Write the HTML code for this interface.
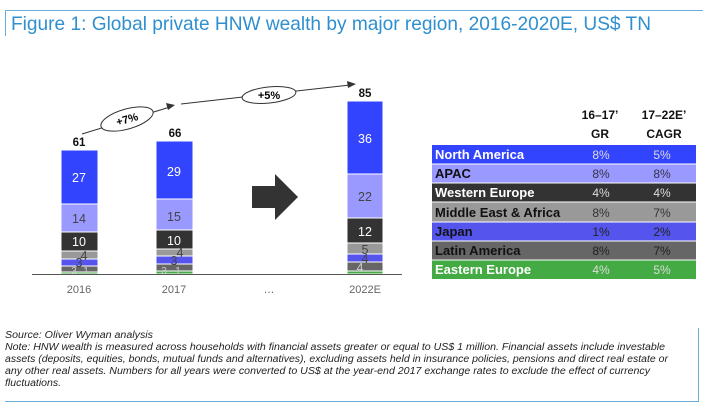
<!DOCTYPE html>
<html><head><meta charset="utf-8"><style>
body{margin:0;background:#fff;width:703px;height:411px;overflow:hidden;position:relative;font-family:"Liberation Sans",sans-serif}
</style></head><body>
<svg width="703" height="411" style="position:absolute;left:0;top:0" font-family="Liberation Sans, sans-serif">
<line x1="5" y1="10.5" x2="703" y2="10.5" stroke="#6aaedb" stroke-width="1"/>
<line x1="5.5" y1="10" x2="5.5" y2="36" stroke="#6aaedb" stroke-width="1"/>
<text x="11" y="30" font-size="19.5" fill="#2f8fcf" textLength="640" lengthAdjust="spacingAndGlyphs">Figure 1: Global private HNW wealth by major region, 2016-2020E, US$ TN</text>
<g stroke="#fff" stroke-width="1">
<rect x="61" y="150" width="37" height="54" fill="#3344ff"/>
<rect x="61" y="204" width="37" height="28" fill="#9999ff"/>
<rect x="61" y="232" width="37" height="19" fill="#333"/>
<rect x="61" y="251" width="37" height="8" fill="#999"/>
<rect x="61" y="259" width="37" height="7" fill="#5555ee"/>
<rect x="61" y="266" width="37" height="6" fill="#666"/>
<rect x="61" y="272" width="37" height="2" fill="#44aa44"/>
<rect x="156" y="141" width="37" height="58" fill="#3344ff"/>
<rect x="156" y="199" width="37" height="31" fill="#9999ff"/>
<rect x="156" y="230" width="37" height="19" fill="#333"/>
<rect x="156" y="249" width="37" height="7" fill="#999"/>
<rect x="156" y="256" width="37" height="8" fill="#5555ee"/>
<rect x="156" y="264" width="37" height="7" fill="#666"/>
<rect x="156" y="271" width="37" height="3" fill="#44aa44"/>
<rect x="347" y="101" width="36" height="73" fill="#3344ff"/>
<rect x="347" y="174" width="36" height="44" fill="#9999ff"/>
<rect x="347" y="218" width="36" height="25" fill="#333"/>
<rect x="347" y="243" width="36" height="11" fill="#999"/>
<rect x="347" y="254" width="36" height="8" fill="#5555ee"/>
<rect x="347" y="262" width="36" height="9" fill="#666"/>
<rect x="347" y="271" width="36" height="3" fill="#44aa44"/>
</g>
<line x1="32" y1="274.5" x2="402" y2="274.5" stroke="#555" stroke-width="1"/>
<g font-size="12.5" text-anchor="middle" fill="#fff">
<text x="79" y="182">27</text><text x="79" y="223" fill="#444">14</text><text x="79" y="246">10</text>
<text x="84" y="260" fill="#444">4</text><text x="79" y="267" fill="#444">3</text><text x="74" y="274" fill="#ccc" font-size="10">3</text><text x="86" y="274" fill="#ccc" font-size="10">1</text>
<text x="174" y="176">29</text><text x="174" y="221" fill="#444">15</text><text x="174" y="245">10</text>
<text x="180" y="257" fill="#444">4</text><text x="174" y="265" fill="#444">3</text><text x="164" y="274" fill="#ccc" font-size="10">3</text><text x="178" y="274" fill="#ccc" font-size="10">1</text>
<text x="365" y="143">36</text><text x="365" y="201" fill="#444">22</text><text x="365" y="236">12</text>
<text x="365" y="254" fill="#444">5</text><text x="365" y="263" fill="#444">4</text><text x="360" y="272" fill="#ccc">4</text>
</g>
<g font-size="11" text-anchor="middle" fill="#666">
<text x="79" y="293">2016</text><text x="174" y="293">2017</text><text x="269" y="293">…</text><text x="365" y="293">2022E</text>
</g>
<g font-size="11.5" font-weight="bold" text-anchor="middle" fill="#111">
<text x="79" y="146">61</text><text x="175" y="137">66</text><text x="365" y="97">85</text>
</g>
<polygon points="252,186 275,186 275,174 298,197 275,220 275,208 252,208" fill="#333"/>
<line x1="82" y1="134" x2="170" y2="107" stroke="#333" stroke-width="1"/>
<polygon points="175,105 166,103 168,110" fill="#333"/>
<ellipse cx="127" cy="119" rx="27" ry="10" transform="rotate(-16 127 119)" fill="#fff" stroke="#333"/>
<text x="127" y="123" font-size="11" font-weight="bold" text-anchor="middle" transform="rotate(-16 127 119)">+7%</text>
<line x1="181" y1="104" x2="350" y2="85" stroke="#333" stroke-width="1"/>
<polygon points="356,84 347,81 348,88" fill="#333"/>
<ellipse cx="269" cy="95" rx="27" ry="8" transform="rotate(-6 269 95)" fill="#fff" stroke="#333"/>
<text x="269" y="99" font-size="11" font-weight="bold" text-anchor="middle">+5%</text>
<g font-size="12" font-weight="bold" text-anchor="middle" fill="#111">
<text x="600" y="119">16–17’</text><text x="600" y="138">GR</text>
<text x="664" y="119">17–22E’</text><text x="664" y="138">CAGR</text>
</g>
<g font-size="13" font-weight="bold">
<rect x="432" y="145" width="264" height="19" fill="#3344ff"/>
<rect x="432" y="164" width="264" height="19" fill="#9999ff"/>
<rect x="432" y="183" width="264" height="19" fill="#333"/>
<rect x="432" y="202" width="264" height="20" fill="#999"/>
<rect x="432" y="222" width="264" height="19" fill="#5555ee"/>
<rect x="432" y="241" width="264" height="19" fill="#666"/>
<rect x="432" y="260" width="264" height="19" fill="#44aa44"/>
<g stroke="#fff"><line x1="432" y1="164" x2="696" y2="164"/><line x1="432" y1="183" x2="696" y2="183"/><line x1="432" y1="202" x2="696" y2="202"/><line x1="432" y1="222" x2="696" y2="222"/><line x1="432" y1="241" x2="696" y2="241"/><line x1="432" y1="260" x2="696" y2="260"/></g>
<text x="435" y="159" fill="#fff">North America</text>
<text x="435" y="178" fill="#111">APAC</text>
<text x="435" y="197" fill="#fff">Western Europe</text>
<text x="435" y="217" fill="#111">Middle East &amp; Africa</text>
<text x="435" y="236" fill="#111">Japan</text>
<text x="435" y="255" fill="#111">Latin America</text>
<text x="435" y="274" fill="#fff">Eastern Europe</text>
</g>
<g font-size="12" text-anchor="middle">
<text x="601" y="159" fill="#ddd">8%</text><text x="662" y="159" fill="#ddd">5%</text>
<text x="601" y="178" fill="#334">8%</text><text x="662" y="178" fill="#334">8%</text>
<text x="601" y="197" fill="#ddd">4%</text><text x="662" y="197" fill="#ddd">4%</text>
<text x="601" y="217" fill="#333">8%</text><text x="662" y="217" fill="#333">7%</text>
<text x="601" y="236" fill="#222">1%</text><text x="662" y="236" fill="#222">2%</text>
<text x="601" y="255" fill="#222">8%</text><text x="662" y="255" fill="#222">7%</text>
<text x="601" y="274" fill="#ddd">4%</text><text x="662" y="274" fill="#ddd">5%</text>
</g>
<line x1="698.5" y1="328" x2="698.5" y2="401" stroke="#6aaedb"/>
<line x1="5" y1="401.5" x2="699" y2="401.5" stroke="#6aaedb"/>
<g font-size="10" font-style="italic" fill="#222">
<text x="5" y="338" textLength="148" lengthAdjust="spacingAndGlyphs">Source: Oliver Wyman analysis</text>
<text x="5" y="350" textLength="660" lengthAdjust="spacingAndGlyphs">Note: HNW wealth is measured across households with financial assets greater or equal to US$ 1 million. Financial assets include investable</text>
<text x="5" y="362" textLength="663" lengthAdjust="spacingAndGlyphs">assets (deposits, equities, bonds, mutual funds and alternatives), excluding assets held in insurance policies, pensions and direct real estate or</text>
<text x="5" y="374" textLength="645" lengthAdjust="spacingAndGlyphs">any other real assets. Numbers for all years were converted to US$ at the year-end 2017 exchange rates to exclude the effect of currency</text>
<text x="5" y="386" textLength="56" lengthAdjust="spacingAndGlyphs">fluctuations.</text>
</g>
</svg>
</body></html>
